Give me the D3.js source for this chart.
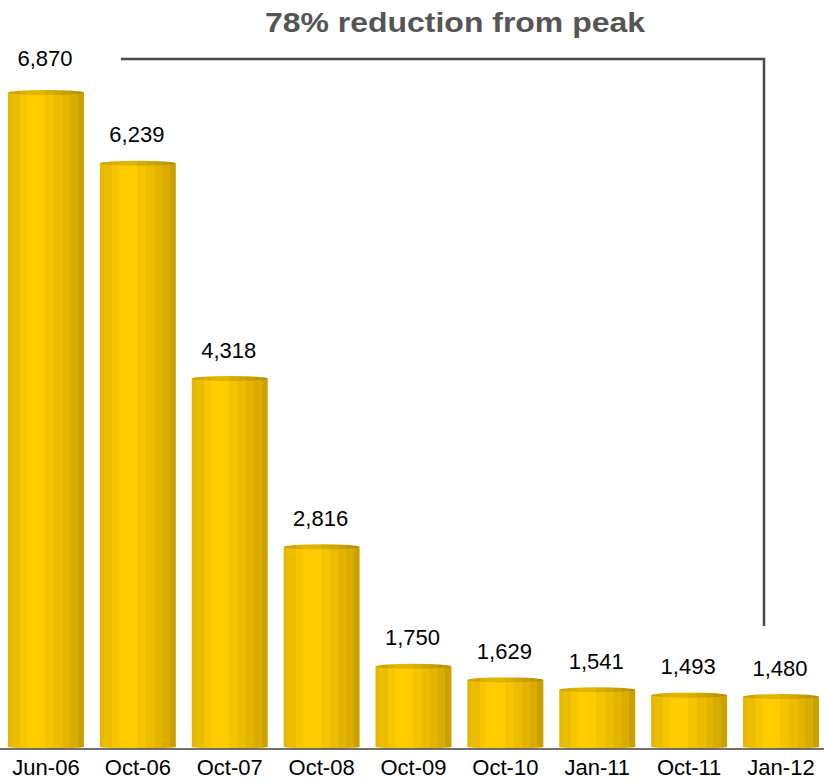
<!DOCTYPE html>
<html>
<head>
<meta charset="utf-8">
<script src="https://cdn.jsdelivr.net/npm/d3@7/dist/d3.min.js"></script>
<style>
  html, body { margin: 0; padding: 0; background: #ffffff; }
  svg { display: block; }
  text { font-family: "Liberation Sans", Arial, Helvetica, sans-serif; }
</style>
</head>
<body>
<svg id="chart" width="824" height="782"></svg>
<script>
// Snapshot dates and the counts recorded at each one
const categories = ["Jun-06", "Oct-06", "Oct-07", "Oct-08", "Oct-09", "Oct-10", "Jan-11", "Oct-11", "Jan-12"];
const values = [6870, 6239, 4318, 2816, 1750, 1629, 1541, 1493, 1480];
const valueLabels = ["6,870", "6,239", "4,318", "2,816", "1,750", "1,629", "1,541", "1,493", "1,480"];
const titleText = "78% reduction from peak";

const W = 824, H = 782;
const baseline = 749;
const svg = d3.select("#chart");

const x = d3.scaleBand()
  .domain(categories)
  .range([0, 827])
  .paddingInner(0.173)
  .paddingOuter(0.087);

const y = d3.scaleLinear()
  .domain([990, 7000])
  .range([baseline, 75.5]);

// Stepped gold shading that gives each bar its cylinder look
const bandStops = [
  [0.00, "#e6b600"], [0.05, "#ecbc00"], [0.16, "#f6c600"], [0.25, "#ffcc00"],
  [0.49, "#f5c400"], [0.61, "#ecbc00"], [0.72, "#e2b400"], [0.82, "#d8ac00"],
  [0.92, "#caa200"], [1.00, "#caa200"]
];
const defs = svg.append("defs");
function stepped(id, shade) {
  const g = defs.append("linearGradient").attr("id", id)
    .attr("x1", "0").attr("x2", "1").attr("y1", "0").attr("y2", "0");
  bandStops.forEach((s, i) => {
    const c = d3.color(s[1]).darker(shade).formatHex();
    g.append("stop").attr("offset", s[0]).attr("stop-color", c);
    if (i < bandStops.length - 1) {
      g.append("stop").attr("offset", bandStops[i + 1][0]).attr("stop-color", c);
    }
  });
}
stepped("barBody", 0);
stepped("barTop", 0.35);

const data = categories.map((c, i) => ({ cat: c, v: values[i], label: valueLabels[i] }));
const ry = 2.5;

const bars = svg.append("g").selectAll("g.bar").data(data).join("g").attr("class", "bar");

// body, rounded foot, and top face of each cylinder
bars.append("rect")
  .attr("x", d => x(d.cat))
  .attr("y", d => y(d.v) + ry)
  .attr("width", x.bandwidth())
  .attr("height", d => baseline - 2 - (y(d.v) + ry))
  .attr("fill", "url(#barBody)");
bars.append("ellipse")
  .attr("cx", d => x(d.cat) + x.bandwidth() / 2)
  .attr("cy", baseline - 2)
  .attr("rx", x.bandwidth() / 2)
  .attr("ry", 1.5)
  .attr("fill", "url(#barBody)");
bars.append("ellipse")
  .attr("cx", d => x(d.cat) + x.bandwidth() / 2)
  .attr("cy", d => y(d.v) + ry)
  .attr("rx", x.bandwidth() / 2)
  .attr("ry", ry)
  .attr("fill", "url(#barTop)");

// value labels above the bars
svg.append("g").selectAll("text").data(data).join("text")
  .attr("x", d => x(d.cat) + x.bandwidth() / 2 - 1)
  .attr("y", (d, i) => i === 0 ? y(d.v) - 24 : y(d.v) - 18.5)
  .attr("text-anchor", "middle")
  .attr("font-size", 22)
  .attr("fill", "#000")
  .text(d => d.label);

// category axis along the baseline
const xAxis = svg.append("g").attr("transform", `translate(0,${baseline})`)
  .call(d3.axisBottom(x).tickSize(0).tickPadding(26));
xAxis.select(".domain").remove();
xAxis.selectAll("text")
  .attr("font-size", 22)
  .attr("fill", "#000")
  .attr("font-family", "'Liberation Sans', Arial, sans-serif")
  .attr("dy", 0);
svg.append("line")
  .attr("x1", 0).attr("x2", W)
  .attr("y1", baseline).attr("y2", baseline)
  .attr("stroke", "#404040").attr("stroke-width", 1.5);

// bracket from the peak across to the latest value
const peakY = y(values[0]) - 31;
const lastX = x(categories[categories.length - 1]) + x.bandwidth() / 2 - 17;
const bracketStart = x(categories[1]) + 21;
const bracketEnd = y(values[values.length - 1]) - 68;
svg.append("path")
  .attr("d", `M${bracketStart},${peakY}H${lastX}V${bracketEnd}`)
  .attr("fill", "none")
  .attr("stroke", "#4a4a4a")
  .attr("stroke-width", 2.5);

// headline
svg.append("text")
  .attr("x", 265)
  .attr("y", 31.5)
  .attr("font-size", 27)
  .attr("font-weight", "bold")
  .attr("fill", "#555555")
  .attr("textLength", 380)
  .attr("lengthAdjust", "spacingAndGlyphs")
  .text(titleText);
</script>
</body>
</html>
